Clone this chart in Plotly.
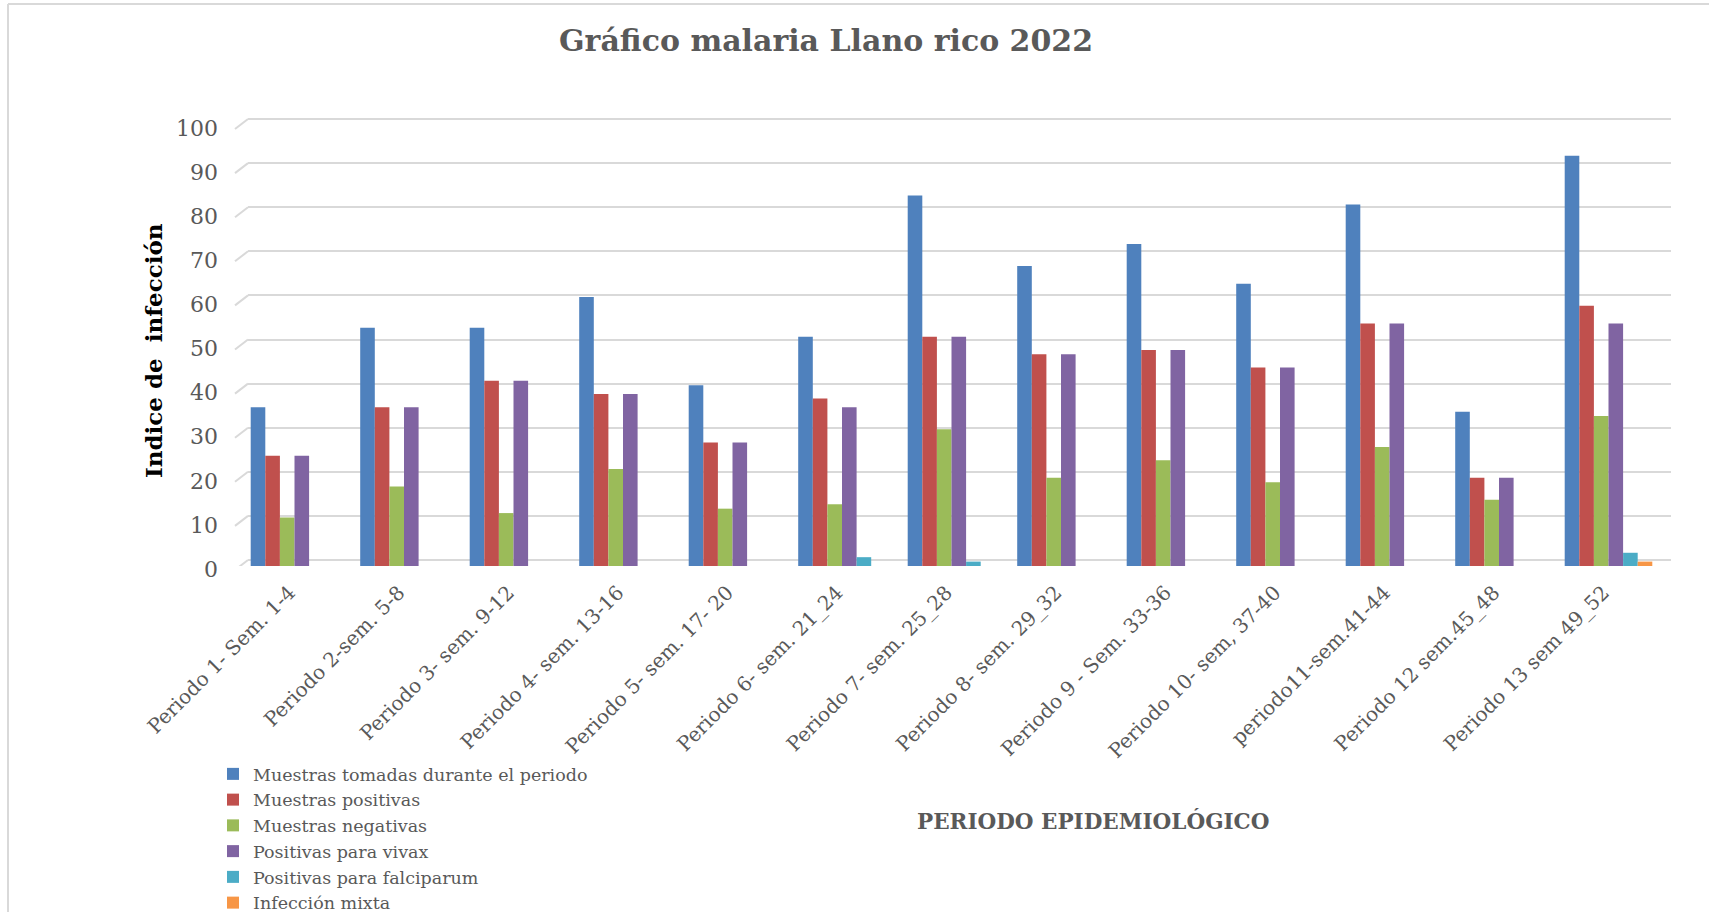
import plotly.graph_objects as go

categories = [
    "Periodo 1- Sem. 1-4", "Periodo 2-sem. 5-8", "Periodo 3- sem. 9-12",
    "Periodo 4- sem. 13-16", "Periodo 5- sem. 17- 20", "Periodo 6- sem. 21_24",
    "Periodo 7- sem. 25_28", "Periodo 8- sem. 29_32", "Periodo 9 - Sem. 33-36",
    "Periodo 10- sem, 37-40", "periodo11-sem.41-44", "Periodo 12 sem.45_48",
    "Periodo 13 sem 49_52",
]
muestras_tomadas = [36, 54, 54, 61, 41, 52, 84, 68, 73, 64, 82, 35, 93]
muestras_positivas = [25, 36, 42, 39, 28, 38, 52, 48, 49, 45, 55, 20, 59]
muestras_negativas = [11, 18, 12, 22, 13, 14, 31, 20, 24, 19, 27, 15, 34]
positivas_vivax = [25, 36, 42, 39, 28, 36, 52, 48, 49, 45, 55, 20, 55]
positivas_falciparum = [0, 0, 0, 0, 0, 2, 1, 0, 0, 0, 0, 0, 3]
infeccion_mixta = [0, 0, 0, 0, 0, 0, 0, 0, 0, 0, 0, 0, 1]

series = [
    ("Muestras tomadas durante el periodo", muestras_tomadas, "#4F81BD"),
    ("Muestras positivas", muestras_positivas, "#C0504D"),
    ("Muestras negativas", muestras_negativas, "#9BBB59"),
    ("Positivas para vivax", positivas_vivax, "#8064A2"),
    ("Positivas para falciparum", positivas_falciparum, "#4BACC6"),
    ("Infección mixta", infeccion_mixta, "#F79646"),
]
y_ticks = list(range(0, 101, 10))

W, H = 1709, 912
L, R, T, B = 248, 1671, 110, 566
PW, PH = R - L, B - T


def px(x):
    return (x - L) / PW


def py(y):
    return (B - y) / PH


SERIF = "DejaVu Serif"
GRAY = "#595959"

fig = go.Figure()
xs = list(range(len(categories)))
for name, vals, color in series:
    fig.add_trace(go.Bar(x=xs, y=vals, name=name, marker_color=color,
                         marker_line_width=0))

k = 441 / 100.0  # px per unit
y_top = (B - T) / k
off = 6 / k

x0c = 294.5
spacing = 109.5
xr = [(L - x0c) / spacing, (R - x0c) / spacing]

fig.update_layout(
    template="none",
    width=W, height=H,
    margin=dict(l=L, r=W - R, t=T, b=H - B, autoexpand=False),
    paper_bgcolor="white", plot_bgcolor="white",
    barmode="group", bargap=0.2, bargroupgap=0,
    font=dict(family=SERIF, color=GRAY),
    xaxis=dict(range=xr, tickmode="array", tickvals=xs, ticktext=categories,
               tickangle=-45, showgrid=False, zeroline=False, showline=False,
               ticks="", automargin=False,
               tickfont=dict(family=SERIF, size=20, color=GRAY),
               ticklabelstandoff=10, ticklabelshift=-5),
    yaxis=dict(range=[0, y_top], tickvals=y_ticks, showgrid=False,
               zeroline=False, showline=False, ticks="", automargin=False,
               tickfont=dict(family=SERIF, size=22, color=GRAY),
               ticklabelstandoff=29, ticklabelshift=3),
    yaxis2=dict(range=[-off, y_top - off], overlaying="y", tickvals=y_ticks,
                showgrid=True, gridcolor="#d9d9d9", gridwidth=2,
                showticklabels=False, zeroline=False, showline=False,
                automargin=False),
    legend=dict(x=px(213), y=py(756), xanchor="left", yanchor="top",
                font=dict(family=SERIF, size=17.5, color=GRAY),
                bgcolor="rgba(0,0,0,0)", traceorder="normal"),
    showlegend=True,
)
fig.add_trace(go.Scatter(x=[None], y=[None], yaxis="y2", showlegend=False,
                         hoverinfo="skip"))

shapes = []
for v in y_ticks:
    shapes.append(dict(type="line", xref="paper", yref="y2",
                       x0=px(235), x1=px(L), y0=v - 10 / k, y1=v,
                       line=dict(color="#d9d9d9", width=2)))
shapes.append(dict(type="line", xref="paper", yref="paper",
                   x0=px(8), x1=px(W), y0=py(4), y1=py(4),
                   line=dict(color="#d9d9d9", width=2)))
shapes.append(dict(type="line", xref="paper", yref="paper",
                   x0=px(8), x1=px(8), y0=py(4), y1=py(H),
                   line=dict(color="#d9d9d9", width=2)))
fig.update_layout(shapes=shapes)

fig.add_annotation(text="<b>Gráfico malaria Llano rico 2022</b>", xref="paper",
                   yref="paper", x=px(826), y=py(41), showarrow=False,
                   xanchor="center", yanchor="middle",
                   font=dict(family=SERIF, size=30, color=GRAY))
fig.add_annotation(text="<b>Indice de  infección</b>", xref="paper", yref="paper",
                   x=px(153), y=py(351), showarrow=False, textangle=-90,
                   xanchor="center", yanchor="middle",
                   font=dict(family=SERIF, size=23, color="black"))
fig.add_annotation(text="<b>PERIODO EPIDEMIOLÓGICO</b>", xref="paper",
                   yref="paper", x=px(1093), y=py(821), showarrow=False,
                   xanchor="center", yanchor="middle",
                   font=dict(family=SERIF, size=21.5, color=GRAY))

fig.write_html("out.html", config={"displayModeBar": False},
               post_script="document.body.style.margin='0';"
                           "document.body.style.overflow='hidden';")
